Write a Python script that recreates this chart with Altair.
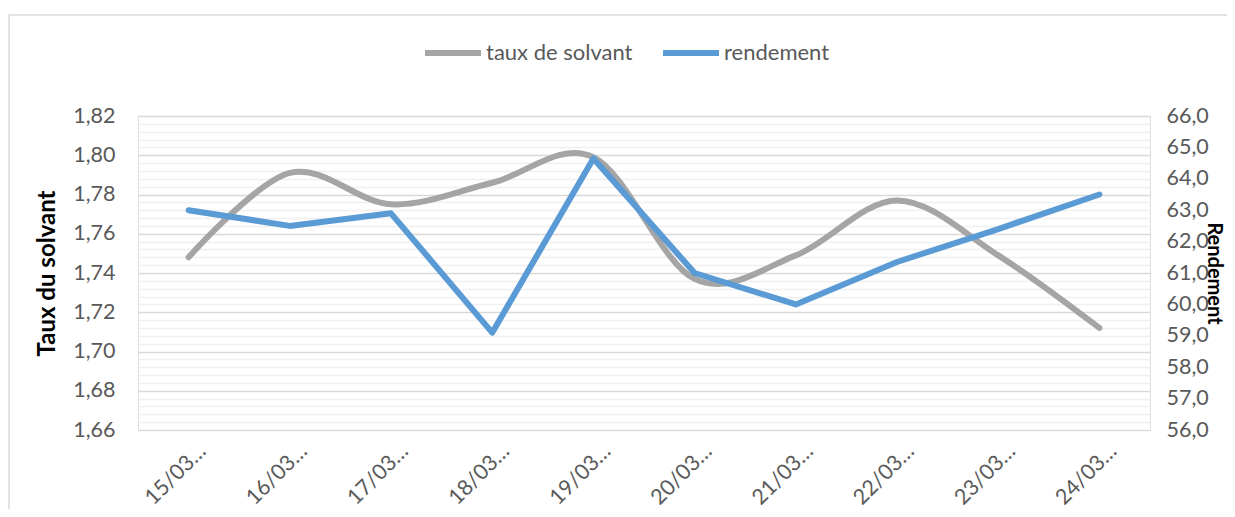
import altair as alt
import pandas as pd

dates = ["15/03…", "16/03…", "17/03…", "18/03…", "19/03…",
         "20/03…", "21/03…", "22/03…", "23/03…", "24/03…"]
taux = [1.748, 1.791, 1.775, 1.786, 1.799, 1.737, 1.749, 1.777, 1.749, 1.712]
rendement = [63.0, 62.5, 62.9, 59.1, 64.65, 61.0, 60.0, 61.35, 62.4, 63.5]
series_names = ["taux de solvant", "rendement"]
series_colors = ["#A5A5A5", "#5B9BD5"]
left_ticks = [round(1.66 + 0.004 * i, 3) for i in range(41)]
right_ticks = [56, 57, 58, 59, 60, 61, 62, 63, 64, 65, 66]

df = pd.DataFrame({"date": dates, "taux": taux, "rendement": rendement})

FONT = "Lato"
LABEL_COLOR = "#595959"
TICK_SIZE = 21.5
TITLE_SIZE = 24
major_test = "abs(datum.value*50 - round(datum.value*50)) < 0.01"

x_enc = alt.X("date:N", sort=dates, title=None,
              scale=alt.Scale(type="point", padding=0.5),
              axis=alt.Axis(labelAngle=-45, domain=False, ticks=False, grid=False,
                            labelFontSize=TICK_SIZE, labelColor=LABEL_COLOR, labelFont=FONT,
                            labelPadding=10, labelOffset=6))

color_scale = alt.Scale(domain=series_names, range=series_colors)

gray = alt.Chart(df).transform_calculate(series="'taux de solvant'").mark_line(
    strokeWidth=6, interpolate="cardinal", strokeCap="round").encode(
    x=x_enc,
    y=alt.Y("taux:Q", scale=alt.Scale(domain=[1.66, 1.82], nice=False, zero=False),
            axis=alt.Axis(values=left_ticks, title="Taux du solvant", domain=False, ticks=False,
                          labelExpr=major_test + " ? replace(format(datum.value, '.2f'), '.', ',') : ''",
                          gridColor={"condition": {"test": major_test, "value": "#d9d9d9"}, "value": "#f0f0f0"},
                          gridWidth=1.5,
                          labelFontSize=TICK_SIZE, labelColor=LABEL_COLOR, labelFont=FONT, labelPadding=23,
                          titleFont=FONT, titleFontSize=TITLE_SIZE, titleFontWeight="bold",
                          titleColor="#000000", titleX=-91, titleY=157, titleBaseline="middle",
                          titleAlign="center")),
    color=alt.Color("series:N", scale=color_scale,
                    legend=alt.Legend(title=None, orient="none", direction="horizontal",
                                      legendX=284, legendY=-94, symbolType="stroke",
                                      symbolSize=3136, symbolStrokeWidth=6,
                                      labelFontSize=22, labelColor=LABEL_COLOR, labelFont=FONT,
                                      labelOffset=2, columnPadding=18, padding=0)),
)

top_border = alt.Chart(alt.Data(values=[{}])).mark_rule(color="#d9d9d9", strokeWidth=1.5).encode(
    x=alt.value(-129), x2=alt.value(1100), y=alt.value(-101))
left_border = alt.Chart(alt.Data(values=[{}])).mark_rule(color="#d9d9d9", strokeWidth=1.5).encode(
    x=alt.value(-129), y=alt.value(-101), y2=alt.value(400))

left_layer = alt.layer(top_border, left_border, gray)

blue = alt.Chart(df).transform_calculate(series="'rendement'").mark_line(
    strokeWidth=6, strokeCap="round", strokeJoin="round").encode(
    x=x_enc,
    y=alt.Y("rendement:Q", scale=alt.Scale(domain=[56, 66], nice=False, zero=False),
            axis=alt.Axis(orient="right", values=right_ticks, title="Rendement", domain=False,
                          ticks=False, grid=False,
                          labelExpr="replace(format(datum.value, '.1f'), '.', ',')",
                          labelFontSize=TICK_SIZE, labelColor=LABEL_COLOR, labelFont=FONT,
                          labelPadding=16,
                          titleFont=FONT, titleFontSize=20, titleFontWeight="bold",
                          titleColor="#000000", titleX=63, titleY=157, titleBaseline="middle",
                          titleAlign="center")),
    color=alt.Color("series:N", scale=color_scale),
)

chart = alt.layer(left_layer, blue).resolve_scale(y="independent").properties(
    width=1012, height=314,
    autosize=alt.AutoSizeParams(type="none"),
    padding={"left": 130, "top": 108, "right": 77, "bottom": 79},
).configure_view(stroke=None).configure(background="white")

chart.save("out.html", embed_options={"renderer": "svg", "actions": False})
